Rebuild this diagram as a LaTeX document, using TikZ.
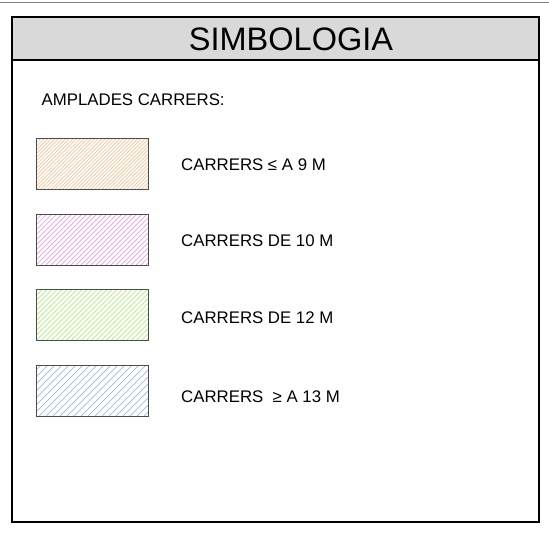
\documentclass[tikz,border=0pt]{standalone}
\usepackage{fontspec}
\setmainfont{Liberation Sans}
\definecolor{headgray}{RGB}{217,217,217}
\definecolor{hatchorange}{RGB}{246,196,156}
\definecolor{hatchpink}{RGB}{234,158,226}
\definecolor{hatchgreen}{RGB}{176,234,132}
\definecolor{hatchblue}{RGB}{158,184,240}
\tikzset{
  frame line/.style={line width=2.6pt, black},
  legend box/.style n args={2}{draw=black!70, line width=1pt, minimum width=112pt, minimum height=51pt, inner sep=0pt,
    path picture={
      \foreach \k in {0,...,50}
        \draw[#1, line width=.7pt] ([xshift={-60pt+\k*#2*1pt}]path picture bounding box.south west) -- ++(60pt,60pt);
    }},
  legend text/.style={anchor=base west, inner sep=0pt, font=\fontsize{16.8}{19}\selectfont},
}

\begin{document}
\begin{tikzpicture}[x=1pt, y=-1pt]
  \useasboundingbox (0,0) rectangle (549,536);
  \draw[gray, line width=1.2pt] (0,2.5) -- (549,2.5);
  % capcalera
  \fill[headgray] (12,17) rectangle (539,60);
  \node (title) at (291,39) {\fontsize{32.5}{36}\selectfont SIMBOLOGIA};
  \draw[line width=1.8pt] (12,60) -- (539,60);
  \draw[frame line] (12,17) rectangle (539,522);
  \node[legend text] (head) at (41.5,105) {AMPLADES CARRERS:};
  % llegenda
  \foreach \name/\col/\step/\cy/\by/\txt in {
      b1/hatchorange/3.6/163.5/170/{CARRERS ≤ A 9 M},
      b2/hatchpink/5/239.5/246/{CARRERS DE 10 M},
      b3/hatchgreen/5/315/323/{CARRERS DE 12 M},
      b4/hatchblue/7/390.5/402/{CARRERS\ \ ≥ A 13 M}}{
    \node[legend box={\col}{\step}] (\name) at (92,\cy) {};
    \node[legend text] (\name-txt) at (181,\by) {\txt};
  }
\end{tikzpicture}
\end{document}
